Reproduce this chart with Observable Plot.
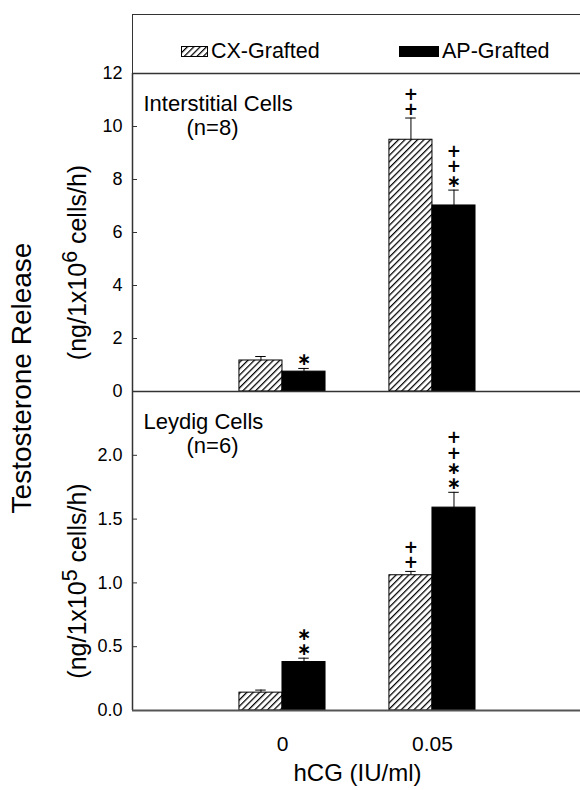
<!DOCTYPE html>
<html>
<head>
<meta charset="utf-8">
<script src="https://cdn.jsdelivr.net/npm/d3@7"></script>
<script src="https://cdn.jsdelivr.net/npm/@observablehq/plot@0.6"></script>
<style>
  body { margin: 0; background: #fff; }
  #chart { position: relative; width: 580px; height: 790px; overflow: hidden; font-family: "Liberation Sans", Arial, sans-serif; color: #000; background: #fff; }
  #chart > svg { position: absolute; left: 0; overflow: visible; }
  .legend { position: absolute; left: 132px; top: 14px; width: 460px; height: 60px; border-top: 1.5px solid #333; border-left: 1.5px solid #333; box-sizing: border-box; }
  .item { position: absolute; top: 24px; display: flex; align-items: center; font-size: 21.5px; line-height: 24px; white-space: nowrap; }
  .item svg { display: block; margin-right: 3px; }
  .ytitle { position: absolute; left: 22px; top: 378px; transform: translate(-50%, -50%) rotate(-90deg); font-size: 28px; white-space: nowrap; }
</style>
</head>
<body>
<svg width="0" height="0" style="position:absolute">
  <defs>
    <pattern id="hatch" patternUnits="userSpaceOnUse" width="4.5" height="4.5" patternTransform="rotate(45)">
      <rect width="4.5" height="4.5" fill="#fff"></rect>
      <line x1="0.6" y1="0" x2="0.6" y2="4.5" stroke="#000" stroke-width="1.3"></line>
    </pattern>
  </defs>
</svg>
<div id="chart"></div>
<script>
// ---- data ----
const doses = ["0", "0.05"];
const groups = ["CX-Grafted", "AP-Grafted"];

const interstitialCX = [1.17, 9.5];
const interstitialCXErr = [0.15, 0.82];
const interstitialAP = [0.75, 7.02];
const interstitialAPErr = [0.12, 0.58];
const interstitialCXSig = ["", "++"];
const interstitialAPSig = ["*", "++*"];

const leydigCX = [0.14, 1.06];
const leydigCXErr = [0.02, 0.03];
const leydigAP = [0.38, 1.59];
const leydigAPErr = [0.03, 0.12];
const leydigCXSig = ["", "++"];
const leydigAPSig = ["**", "++**"];

const interstitialTicks = [0, 2, 4, 6, 8, 10, 12];
const leydigTicks = [0, 0.5, 1.0, 1.5, 2.0];

const panelTitles = ["Interstitial Cells", "Leydig Cells"];
const panelN = ["(n=8)", "(n=6)"];
const yLabels = ["(ng/1x10^6 cells/h)", "(ng/1x10^5 cells/h)"];
const xLabel = "hCG (IU/ml)";
const yTitle = "Testosterone Release";

// ---- layout helpers ----
const barW = 0.287;
const capW = 0.035;
const xDomain = [-1, 1.987];

function rows(cx, cxE, cxS, ap, apE, apS) {
  return doses.flatMap((dose, i) => [
    {dose, i, group: groups[0], value: cx[i], err: cxE[i], sig: cxS[i]},
    {dose, i, group: groups[1], value: ap[i], err: apE[i], sig: apS[i]}
  ]);
}
const isCX = d => d.group === groups[0];
const barCenter = d => d.i + (isCX(d) ? -barW / 2 : barW / 2);
const errTop = d => d.value + d.err;
const sigText = d => d.sig.split("").map(c => c === "*" ? "\u2217" : c).join("\n");

function panel({data, yDomain, ticks, tickFormat, title, n, yLabel, height, marginTop, marginBottom, baseStroke, baseWidth, bottom}) {
  const marks = [
    Plot.rectY(data, {x1: d => isCX(d) ? d.i - barW : d.i, x2: d => isCX(d) ? d.i : d.i + barW, y1: 0, y2: "value",
      fill: d => isCX(d) ? "url(#hatch)" : "#000", stroke: "#000", strokeWidth: 1}),
    Plot.ruleX(data, {x: barCenter, y1: "value", y2: errTop, stroke: "#000", strokeWidth: 1}),
    Plot.ruleY(data, {y: errTop, x1: d => barCenter(d) - capW, x2: d => barCenter(d) + capW, stroke: "#000", strokeWidth: 1}),
    Plot.text(data, {x: barCenter, y: errTop, text: sigText, lineAnchor: "bottom", dy: -3, fontSize: 17, fontWeight: "bold",
      lineHeight: 0.9, fontFamily: "DejaVu Sans", fill: "#000"}),
    Plot.ruleX([xDomain[0]], {stroke: "#333", strokeWidth: 1.5}),
    Plot.ruleY(ticks, {insetRight: 443, stroke: "#333", strokeWidth: 1}),
    Plot.ruleY([0], {stroke: baseStroke, strokeWidth: baseWidth}),
    Plot.axisY({ticks, tickFormat, tickSize: 0, tickPadding: 10, fontSize: 18, label: null}),
    Plot.text([title], {frameAnchor: "top-left", dx: 11, dy: 22, textAnchor: "start", fontSize: 22}),
    Plot.text([n], {frameAnchor: "top-left", dx: 80, dy: 46, textAnchor: "middle", fontSize: 22}),
    Plot.text([yLabel], {frameAnchor: "left", rotate: -90, dx: -55, dy: 30, fontSize: 25, textAnchor: "middle"})
  ];
  if (bottom) {
    marks.push(Plot.axisX({ticks: doses.map((d, i) => i), tickFormat: i => doses[i], tickSize: 0, tickPadding: 26, fontSize: 21, label: null}));
    marks.push(Plot.text([xLabel], {x: (0 + doses.length - 1) / 2, frameAnchor: "bottom", dy: 70, fontSize: 24}));
  } else {
    marks.push(Plot.ruleY([yDomain[1]], {stroke: "#333", strokeWidth: 1.5}));
  }
  return Plot.plot({
    width: 580, height, marginLeft: 132, marginRight: 0, marginTop, marginBottom,
    style: {fontFamily: "'Liberation Sans', Arial, sans-serif", background: "transparent", color: "#000", overflow: "visible"},
    x: {domain: xDomain, axis: bottom ? undefined : null},
    y: {domain: yDomain},
    marks
  });
}

function superscript(svg) {
  svg.querySelectorAll("text").forEach(t => {
    const s = t.textContent;
    if (!s.includes("^")) return;
    const m = s.match(/^(.*)\^(\S)(.*)$/);
    t.textContent = "";
    const a = document.createElementNS("http://www.w3.org/2000/svg", "tspan");
    a.textContent = m[1];
    const b = document.createElementNS("http://www.w3.org/2000/svg", "tspan");
    b.textContent = m[2]; b.setAttribute("dy", "-0.4em"); b.setAttribute("font-size", "0.85em");
    const c = document.createElementNS("http://www.w3.org/2000/svg", "tspan");
    c.textContent = m[3]; c.setAttribute("dy", "0.34em");
    t.append(a, b, c);
  });
}

const chart = document.getElementById("chart");

const topPlot = panel({
  data: rows(interstitialCX, interstitialCXErr, interstitialCXSig, interstitialAP, interstitialAPErr, interstitialAPSig),
  yDomain: [0, 12], ticks: interstitialTicks, tickFormat: d3.format("d"),
  title: panelTitles[0], n: panelN[0], yLabel: yLabels[0],
  height: 340, marginTop: 13, marginBottom: 9, baseStroke: "#333", baseWidth: 1.5, bottom: false
});
topPlot.style.top = "60px";
superscript(topPlot);

const botPlot = panel({
  data: rows(leydigCX, leydigCXErr, leydigCXSig, leydigAP, leydigAPErr, leydigAPSig),
  yDomain: [0, 2.5], ticks: leydigTicks, tickFormat: d3.format(".1f"),
  title: panelTitles[1], n: panelN[1], yLabel: yLabels[1],
  height: 399, marginTop: 0, marginBottom: 80, baseStroke: "#555", baseWidth: 2, bottom: true
});
botPlot.style.top = "391px";
superscript(botPlot);

// legend (above the plots)
const legend = document.createElement("div");
legend.className = "legend";
legend.innerHTML = `
  <div class="item" style="left:48px"><svg width="27" height="11"><rect x="0.5" y="0.5" width="26" height="10" fill="url(#hatch)" stroke="#000"></rect></svg>${groups[0]}</div>
  <div class="item" style="left:266px"><svg width="40" height="11"><rect x="0" y="0" width="40" height="11" fill="#000"></rect></svg>${groups[1]}</div>`;

const yt = document.createElement("div");
yt.className = "ytitle";
yt.textContent = yTitle;

chart.append(legend, topPlot, botPlot, yt);
</script>
</body>
</html>
